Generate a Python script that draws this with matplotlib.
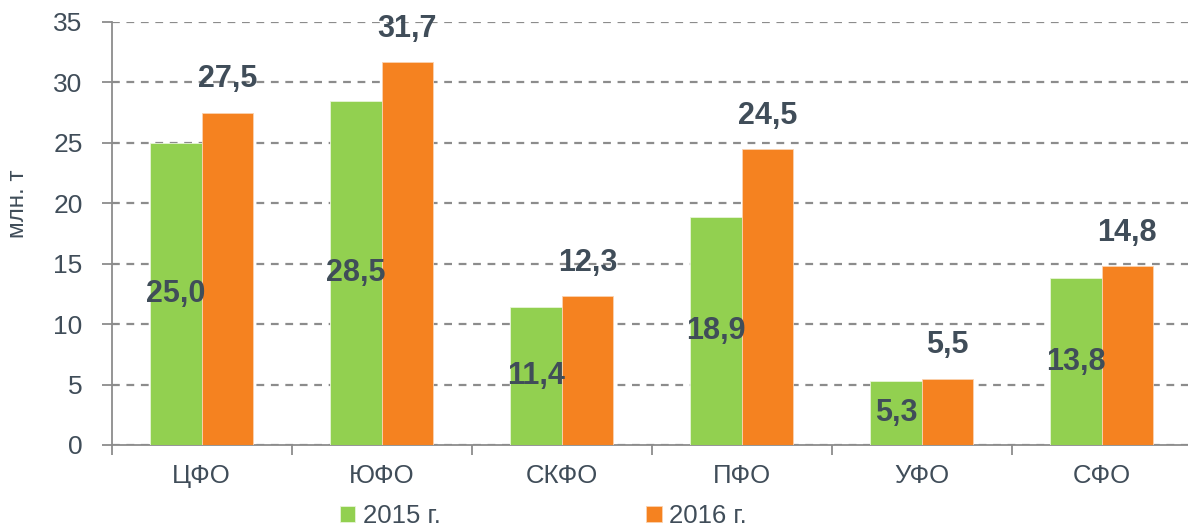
import numpy as np
import matplotlib
matplotlib.use('Agg')
import matplotlib.pyplot as plt

plt.rcParams['font.family'] = ['Liberation Sans', 'DejaVu Sans']

# данные
districts = ['ЦФО', 'ЮФО', 'СКФО', 'ПФО', 'УФО', 'СФО']
y2015 = [25.0, 28.5, 11.4, 18.9, 5.3, 13.8]
y2016 = [27.5, 31.7, 12.3, 24.5, 5.5, 14.8]
series_names = ['2015 г.', '2016 г.']

text_col = '#404d59'
green = '#92d050'
orange = '#f58220'
grey = '#8c8c8c'

fig = plt.figure(figsize=(11.88, 5.27), dpi=100)
ax = fig.add_axes([0.094, 0.1556, 0.909, 0.8027])

x = np.arange(len(districts))
w = 0.286
b1 = ax.bar(x - w / 2, y2015, w, color=green, edgecolor='#e8f5d8', linewidth=0.6,
            label=series_names[0], zorder=3)
b2 = ax.bar(x + w / 2, y2016, w, color=orange, edgecolor='#fbd3b0', linewidth=0.6,
            label=series_names[1], zorder=3)

fmt = lambda v: ('%.1f' % v).replace('.', ',')

# подписи 2015 - внутри столбца, 2016 - над столбцом
for xi, v in zip(x, y2015):
    ax.text(xi - w / 2, v / 2, fmt(v), ha='center', va='center', fontsize=22,
            fontweight='bold', color=text_col, zorder=5)
for xi, v in zip(x, y2016):
    ax.text(xi + w / 2, v + 1.5, fmt(v), ha='center', va='bottom', fontsize=22,
            fontweight='bold', color=text_col, zorder=5)

ax.set_xlim(-0.5, len(districts) - 0.5)
ax.set_ylim(0, 35)
ax.set_yticks(np.arange(0, 36, 5))
ax.yaxis.grid(True, linestyle=(0, (3.5, 3)), color=grey, linewidth=1.6, zorder=0)
ax.set_axisbelow(True)

ax.set_xticks(x)
ax.set_xticklabels(districts)
ax.set_xticks(np.arange(-0.5, len(districts), 1), minor=True)
ax.tick_params(axis='x', which='major', length=0, pad=14, labelsize=18.5, labelcolor=text_col)
ax.tick_params(axis='x', which='minor', length=7, width=1.3, color=grey, direction='out')
ax.tick_params(axis='y', length=7, width=1.3, color=grey, pad=14, labelsize=19,
               labelcolor=text_col)

for s in ['top', 'right']:
    ax.spines[s].set_visible(False)
for s in ['left', 'bottom']:
    ax.spines[s].set_color(grey)
    ax.spines[s].set_linewidth(1.3)

ax.set_ylabel('млн. т', fontsize=17.5, color=text_col)
ax.yaxis.set_label_coords(-0.0765, 0.57)

fig.legend(handles=[b1, b2], loc='center', bbox_to_anchor=(0.4575, 0.021), ncol=2,
           frameon=False, fontsize=18.5, handlelength=0.6, handleheight=0.6,
           handletextpad=0.3, columnspacing=8.0, labelcolor=text_col)

fig.savefig('out.png', dpi=100)
